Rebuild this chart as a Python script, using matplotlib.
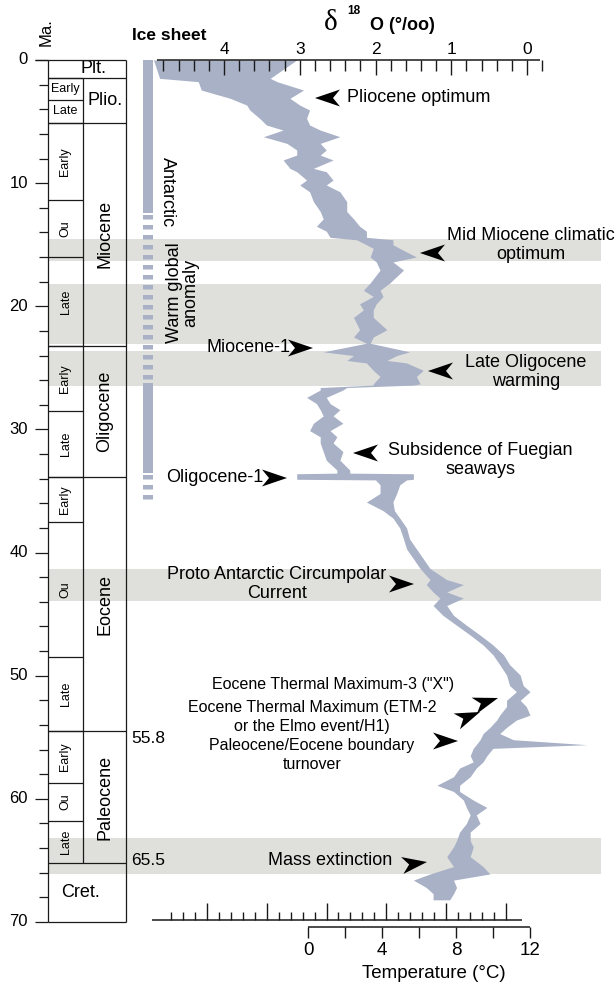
"""
Cenozoic d18O / temperature record with stratigraphic column,
Antarctic ice sheet bar, warm intervals and event annotations.
Output: out.png (616 x 983 px)
"""
import matplotlib
matplotlib.use("Agg")
import matplotlib.pyplot as plt
from matplotlib.patches import Polygon
import numpy as np

plt.rcParams['font.family'] = ['Liberation Sans', 'DejaVu Sans']

W, H, DPI = 616, 983, 100
BAND = "#dfdfdb"
CURVE = "#a9b1c7"
INK = "#1a1a1a"

# ---- data -------------------------------------------------------------
age_ma = [0.0, 1.49, 1.76, 2.44, 3.11, 3.66, 4.06, 4.74, 5.28, 5.69, 6.23,
          6.77, 7.31, 7.72, 8.12, 8.80, 9.07, 9.75, 10.15, 10.7, 11.5,
          12.3, 12.9, 13.5, 13.9, 14.4, 14.6, 15.0, 15.3, 16.0, 16.4,
          17.06, 18.1, 18.7, 19.2, 19.8, 20.3, 20.9, 21.4, 21.9, 22.5,
          23.0, 23.7, 24.0, 24.4, 24.6, 25.2, 25.7, 26.3, 26.4, 26.6,
          26.8, 27.4, 27.9, 28.4, 28.9, 29.5, 30.1, 30.6, 31.1, 31.8,
          32.5, 33.3, 33.55, 33.6, 34.05, 34.1, 34.5, 35.2, 35.9, 36.6,
          37.2, 38.0, 38.9, 39.7, 40.5, 41.3, 42.2, 42.6, 43.2, 43.7,
          44.3, 45.1, 45.9, 46.7, 47.5, 48.3, 49.1, 49.95, 50.8, 51.3,
          52.0, 52.5, 53.2, 53.6, 54.2, 54.7, 55.2, 55.6, 55.9, 56.5,
          57.0, 57.5, 58.2, 58.9, 59.4, 60.1, 60.7, 61.3, 62.0, 62.7,
          63.4, 63.9, 64.7, 65.5, 66.1, 66.6, 67.2, 67.7, 68.2]
d18o_heavy = [4.93, 4.85, 4.34, 4.30, 3.92, 3.70, 3.66, 3.53, 3.44, 3.22, 3.48,
              3.17, 3.04, 3.04, 3.22, 3.13, 3.04, 2.91, 3.00, 2.87, 2.82,
              2.73, 2.69, 2.78, 2.65, 2.60, 2.25, 2.12, 2.03, 2.07, 1.99,
              1.94, 2.07, 2.16, 2.03, 2.21, 2.16, 2.29, 2.25, 2.21, 2.29,
              2.12, 2.69, 2.29, 2.38, 2.12, 2.03, 1.94, 2.03, 2.03, 2.73,
              2.73, 2.91, 2.78, 2.73, 2.69, 2.82, 2.87, 2.73, 2.73, 2.69,
              2.65, 2.51, 2.51, 3.04, 3.04, 2.00, 1.94, 1.94, 2.12, 1.90,
              1.77, 1.68, 1.63, 1.59, 1.50, 1.41, 1.28, 1.33, 1.24, 1.15,
              1.24, 1.11, 0.93, 0.75, 0.58, 0.45, 0.36, 0.27, 0.23, 0.14,
              0.27, 0.27, 0.36, 0.40, 0.49, 0.58, 0.62, 0.67, 0.71, 0.75,
              0.71, 0.89, 0.97, 1.19, 0.97, 0.84, 0.80, 0.75, 0.80, 0.89,
              0.93, 0.97, 1.06, 0.97, 1.28, 1.50, 1.33, 1.24, 1.24]
d18o_light = [3.04, 3.39, 3.30, 2.95, 3.13, 3.00, 2.87, 2.91, 2.87, 2.73, 2.47,
              2.73, 2.65, 2.73, 2.56, 2.82, 2.65, 2.56, 2.65, 2.47, 2.38,
              2.38, 2.29, 2.21, 2.12, 2.12, 1.77, 1.77, 1.68, 1.46, 1.77,
              1.63, 1.81, 1.94, 1.90, 1.99, 2.03, 2.03, 1.94, 1.85, 2.03,
              2.07, 1.55, 1.72, 1.85, 1.59, 1.37, 1.46, 1.41, 1.50, 2.38,
              2.43, 2.65, 2.60, 2.47, 2.56, 2.43, 2.60, 2.51, 2.56, 2.43,
              2.47, 2.34, 2.34, 1.50, 1.50, 1.59, 1.68, 1.72, 1.77, 1.75,
              1.68, 1.59, 1.55, 1.46, 1.37, 1.28, 1.06, 0.84, 1.06, 0.84,
              1.06, 0.97, 0.80, 0.62, 0.45, 0.31, 0.23, 0.09, 0.05, -0.04,
              0.09, 0.01, -0.04, 0.14, 0.27, 0.36, 0.18, -0.79, 0.45, 0.53,
              0.58, 0.67, 0.75, 0.89, 0.89, 0.71, 0.53, 0.67, 0.62, 0.75,
              0.75, 0.71, 0.75, 0.58, 0.49, 0.97, 0.93, 0.97, 1.02]

band_top = [14.5, 18.2, 23.6, 41.3, 63.2]
band_base = [16.3, 23.1, 26.5, 43.9, 66.1]

ice_solid_top = [0.0, 26.2]
ice_solid_base = [12.4, 33.5]
ice_dash_top = [12.6, 33.7]
ice_dash_base = [26.2, 36.0]

epoch_names = ["Plt.", "Plio.", "Miocene", "Oligocene", "Eocene",
               "Paleocene", "Cret."]
epoch_top = [0.0, 1.46, 5.1, 23.2, 33.9, 54.5, 65.2]
epoch_base = [1.46, 5.1, 23.2, 33.9, 54.5, 65.2, 70.0]

stage_names = ["Early", "Late", "Early", "Ou", "Late", "Early", "Late",
               "Early", "Ou", "Late", "Early", "Ou", "Late"]
stage_top = [1.46, 3.25, 5.1, 11.4, 16.0, 23.2, 28.5, 33.9, 37.5, 48.5,
             54.5, 58.7, 61.8]
stage_base = [3.25, 5.1, 11.4, 16.0, 23.2, 28.5, 33.9, 37.5, 48.5, 54.5,
              58.7, 61.8, 65.2]

ma_ticks = list(range(0, 71, 2))
d18o_ticks = np.round(np.arange(-0.2, 4.81, 0.2), 1)
temp_ticks = [0, 2, 4, 6, 8, 10, 12]

# ---- pixel calibration of the original drawing -------------------------
X0_PX, PX_PER_D = 527.0, 75.75     # d18O = 0 sits at x = 527 px
Y0_PX, PX_PER_MA = 60.0, 12.314    # 0 Ma sits at y = 60 px


def X(px):
    return (X0_PX - px) / PX_PER_D


def Y(py):
    return (py - Y0_PX) / PX_PER_MA


def T(t):
    # temperature scale: 0 degC at 308 px, 18.5 px per degree
    return X(308 + 18.5 * t)


fig = plt.figure(figsize=(W / DPI, H / DPI), dpi=DPI, facecolor="white")
ax = fig.add_axes([0, 0, 1, 1])
ax.set_xlim(X(0), X(W))
ax.set_ylim(Y(H), Y(0))
ax.axis("off")

LW = 0.9


def seg(x1, y1, x2, y2, lw=LW, z=5):
    ax.plot([x1, x2], [y1, y2], color=INK, lw=lw, solid_capstyle="butt",
            zorder=z)


# warm intervals
for t, b in zip(band_top, band_base):
    ax.axhspan(t, b, xmin=48 / W, xmax=601 / W, color=BAND, lw=0, zorder=0)

# d18O envelope
ax.fill_betweenx(age_ma, d18o_heavy, d18o_light, color=CURVE, lw=0,
                 zorder=2)

# ice sheet bar
xb = X(148)
for t, b in zip(ice_solid_top, ice_solid_base):
    ax.plot([xb, xb], [t, b], color=CURVE, lw=7.2, solid_capstyle="butt",
            zorder=2)
for t, b in zip(ice_dash_top, ice_dash_base):
    ax.plot([xb, xb], [t, b], color=CURVE, lw=7.2, dash_capstyle="butt",
            linestyle=(0, (0.45, 0.55)), zorder=2)

# ---- stratigraphic column -------------------------------------------
xl, xm, xr = X(48), X(83), X(126)
seg(xl, 0, xl, 70)
seg(xr, 0, xr, 70)
seg(xm, epoch_top[1], xm, epoch_base[-2])
for t in epoch_top + [70.0]:
    seg(xl, t, xr, t)
for t in stage_top:
    seg(xl, t, xm, t)

for name, t, b in zip(epoch_names, epoch_top, epoch_base):
    yc = (t + b) / 2
    if name == "Plt.":
        ax.text(X(93), yc, name, ha="center", va="center", fontsize=13)
    elif name == "Cret.":
        ax.text(X(81), yc, name, ha="center", va="center", fontsize=13)
    elif name == "Plio.":
        ax.text(X(105), yc, name, ha="center", va="center", fontsize=13)
    else:
        ax.text(X(105), yc, name, ha="center", va="center", fontsize=13,
                rotation=90)

for name, t, b in zip(stage_names, stage_top, stage_base):
    rot = 0 if (b - t) < 2.5 else 90
    ax.text(X(65.5), (t + b) / 2, name, ha="center", va="center",
            fontsize=9, rotation=rot)

ax.text(X(131), Y(738), "55.8", ha="left", va="center", fontsize=12.5)
ax.text(X(131), Y(860), "65.5", ha="left", va="center", fontsize=12.5)

# age axis
for m in ma_ticks:
    x0 = X(35) if m % 10 == 0 else X(39)
    seg(x0, m, xl, m)
    if m % 10 == 0:
        ax.text(X(28), m, str(m), ha="right", va="center", fontsize=12)
seg(X(35), 0, X(48), 0)
ax.text(X(46), Y(32), "Ma.", rotation=90, ha="center", va="center",
        fontsize=12)

# ---- top d18O axis ----------------------------------------------------
ytop = 0.0
seg(X(157), ytop, X(540), ytop, lw=1.1, z=6)
for d in d18o_ticks:
    major = abs(d - round(d)) < 1e-6
    seg(d, ytop, d, Y(60 + (15 if major else 11)), lw=1.0, z=6)
    if major and d >= 0:
        ax.text(d, Y(50), f"{int(round(d))}", ha="center", va="center",
                fontsize=12.5)

ax.text(X(132), Y(35), "Ice sheet", ha="left", va="center", fontsize=12.5,
        fontweight="bold")
ax.text(X(331), Y(23), "\u03b4", ha="center", va="center", fontsize=21,
        family=["Liberation Serif", "DejaVu Serif"])
ax.text(X(354), Y(11), "18", ha="center", va="center", fontsize=8.5,
        fontweight="bold")
ax.text(X(370), Y(25), "O (\u00b0/oo)", ha="left", va="center",
        fontsize=13, fontweight="bold")

# ---- bottom scales ----------------------------------------------------
yb1 = Y(920)
seg(X(152), yb1, X(522), yb1, lw=1.1)
for k in range(-3, 26):
    xp = 207 + 11.95 * k
    top = 903 if k % 5 == 0 else 912
    seg(X(xp), yb1, X(xp), Y(top), lw=1.0)

yb2 = Y(927)
seg(T(0), yb2, T(12), yb2, lw=1.1)
for t in temp_ticks:
    seg(T(t), yb2, T(t), Y(938), lw=1.0)
    if t % 4 == 0:
        ax.text(T(t), Y(950), str(t), ha="center", va="center", fontsize=13.5)
ax.text(T(6.8), Y(973), "Temperature (\u00b0C)", ha="center", va="center",
        fontsize=13.5)

# ---- ice sheet labels -------------------------------------------------
ax.text(X(167), Y(192), "Antarctic", rotation=-90, ha="center",
        va="center", fontsize=13)
ax.text(X(183), Y(293), "Warm global\nanomaly", rotation=90, ha="center",
        va="center", fontsize=13, linespacing=0.95)


# ---- event annotations -----------------------------------------------
def arrowhead(tip, ang, length=25, half=8.5, notch=7):
    a = np.deg2rad(ang)
    ux, uy = np.cos(a), -np.sin(a)
    nx, ny = -uy, ux
    tx, ty = tip
    pts = [(tx, ty),
           (tx - length * ux + half * nx, ty - length * uy + half * ny),
           (tx - (length - notch) * ux, ty - (length - notch) * uy),
           (tx - length * ux - half * nx, ty - length * uy - half * ny)]
    ax.add_patch(Polygon([(X(px), Y(py)) for px, py in pts], closed=True,
                         fc="black", ec="none", zorder=7))


events = [
    ("Pliocene optimum", 347, 98, "left", 13, (315, 98), 180),
    ("Mid Miocene climatic\noptimum", 531, 245, "center", 13, (420, 253), 180),
    ("Miocene-1", 291, 348, "right", 13, (313, 348), 0),
    ("Late Oligocene\nwarming", 526, 372, "center", 13, (428, 371), 180),
    ("Subsidence of Fuegian\nseaways", 480, 460, "center", 13, (353, 453), 180),
    ("Oligocene-1", 263, 477, "right", 13, (287, 478), 0),
    ("Proto Antarctic Circumpolar\nCurrent", 277, 584, "center", 13,
     (414, 584), 0),
    ("Eocene Thermal Maximum-3 (\"X\")", 333, 684, "center", 11.5,
     (498, 698), 18),
    ("Eocene Thermal Maximum (ETM-2\nor the Elmo event/H1)", 312, 717,
     "center", 11.5, (480, 712), 22),
    ("Paleocene/Eocene boundary\nturnover", 312, 755, "center", 11.5,
     (458, 741), 0),
    ("Mass extinction", 268, 860, "left", 13, (427, 862), 8),
]
for label, tx, ty, ha, fs, tip, ang in events:
    ax.text(X(tx), Y(ty), label, ha=ha, va="center", fontsize=fs,
            linespacing=1.15 if fs > 12 else 1.3, multialignment="center",
            zorder=8)
    arrowhead(tip, ang)

fig.savefig("out.png", dpi=DPI, facecolor="white")
